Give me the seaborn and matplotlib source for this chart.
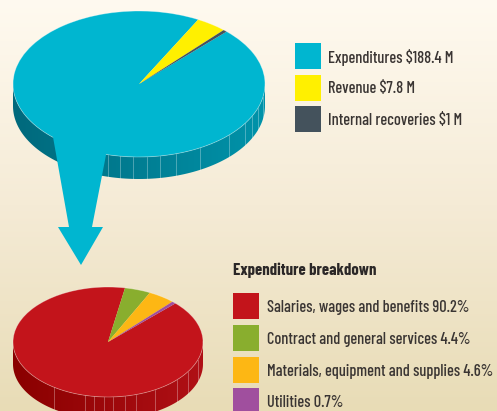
import numpy as np
import matplotlib
matplotlib.use("Agg")
import matplotlib.pyplot as plt
from matplotlib.colors import LinearSegmentedColormap
from matplotlib.patches import Polygon, Rectangle
import seaborn as sns

# data
budget_labels = ["Expenditures $188.4 M", "Revenue $7.8 M", "Internal recoveries $1 M"]
budget_values = [188.4, 7.8, 1]
budget_colors = ["#00b6d0", "#fff000", "#44525c"]

breakdown_title = "Expenditure breakdown"
breakdown_labels = ["Salaries, wages and benefits 90.2%", "Contract and general services 4.4%",
                    "Materials, equipment and supplies 4.6%", "Utilities 0.7%"]
breakdown_values = [90.2, 4.4, 4.6, 0.7]
breakdown_colors = ["#c3141b", "#89ae2e", "#fdb714", "#a04f9e"]

W, H = 497, 411
sns.set_theme(style="white")
plt.rcParams['font.family'] = ['Barlow Condensed', 'Liberation Sans', 'DejaVu Sans']

fig = plt.figure(figsize=(W / 100, H / 100), dpi=100)

# full figure axes in pixels, used for background, legends and arrow
bg = fig.add_axes([0, 0, 1, 1])
bg.set_xlim(0, W)
bg.set_ylim(H, 0)
bg.axis("off")
grad = LinearSegmentedColormap.from_list("bg", ["#fffaf0", "#f5ebd6", "#e8dcb6"])
bg.imshow(np.linspace(0, 1, 256).reshape(-1, 1), cmap=grad, extent=(0, W, H, 0), aspect="auto", zorder=0)


def draw_pie(cx, cy, rx, ry, depth, values, colors, start, dark_left, dark_right, seams):
    pad = 2
    ax = fig.add_axes([(cx - rx - pad) / W, (H - cy - ry - depth - pad) / H,
                       (2 * rx + 2 * pad) / W, (2 * ry + depth + 2 * pad) / H])
    ax.patch.set_alpha(0)
    wedges, _ = ax.pie(values, colors=sns.color_palette(colors), startangle=start, counterclock=False,
                       radius=1, wedgeprops=dict(linewidth=0))
    d = depth / ry
    for w in wedges:
        w.set_zorder(3)

    # side wall: horizontal gradient clipped to the front band of the ellipse
    wall = LinearSegmentedColormap.from_list("wall", [dark_left, dark_right])
    t = np.radians(np.linspace(180, 360, 121))
    band = np.r_[np.c_[np.cos(t), np.sin(t)], np.c_[np.cos(t[::-1]), np.sin(t[::-1]) - d]]
    poly = Polygon(band, closed=True, facecolor="none", edgecolor="none", transform=ax.transData)
    ax.add_patch(poly)
    img = ax.imshow(np.linspace(0, 1, 256).reshape(1, -1), cmap=wall, extent=(-1, 1, -1 - d, 1),
                    aspect="auto", zorder=1)
    img.set_clip_path(poly)
    ax.set_xlim(-1 - pad / rx, 1 + pad / rx)
    ax.set_ylim(-1 - d - pad / ry, 1 + pad / ry)
    ax.set_aspect("auto")

    # facet lines on the wall, seams are pixel x positions
    for px in seams:
        x = (px - cx) / rx
        y = -np.sqrt(1 - x * x)
        ax.plot([x, x], [y - d, y], color="white", alpha=0.3, lw=0.7, zorder=2)

    # pale rim
    t = np.linspace(0, 2 * np.pi, 300)
    ax.plot(np.cos(t), np.sin(t), color="white", alpha=0.35, lw=0.6, zorder=4)
    return ax


draw_pie(108, 342, 95, 55, 22, breakdown_values, breakdown_colors, 44.7, "#8a0000", "#b01016",
         [54, 85, 94, 104, 113, 125, 136, 155, 177, 188, 198])
draw_pie(139, 84, 126, 73, 22, budget_values, budget_colors, 45.9, "#00697c", "#0093aa",
         [108, 120, 133, 147, 160, 176, 200, 229, 245, 252, 258, 263])

# arrow between the pies
over = fig.add_axes([0, 0, 1, 1])
over.set_xlim(0, W)
over.set_ylim(H, 0)
over.axis("off")
over.add_patch(Polygon([(53, 137), (100, 120), (106, 155), (92, 227), (103, 227), (81, 265), (58, 227), (69, 227)],
                       closed=True, facecolor=budget_colors[0], edgecolor="none"))

# text size that gives the longest label its width in the reference, whichever font resolved
probe = fig.text(0, 0, breakdown_labels[2], fontsize=10, fontweight=500)
fs = 10 * 226 / probe.get_window_extent(renderer=fig.canvas.get_renderer()).width
probe.remove()


def draw_legend(x, y_tops, size, labels, colors, text_x):
    for top, label, color in zip(y_tops, labels, colors):
        over.add_patch(Rectangle((x, top), size, size, facecolor=color, edgecolor="none"))
        over.text(text_x, top + size / 2 + 1, label, color="#3a3533", fontsize=fs, fontweight=500,
                  va="center", ha="left")


draw_legend(295, [43, 75, 106], 26, budget_labels, budget_colors, 328)
draw_legend(233, [293, 325, 357, 388], 26, breakdown_labels, breakdown_colors, 267)
over.text(233, 270, breakdown_title, color="#2b2727", fontsize=fs * 1.02, fontweight="bold", va="center", ha="left")

fig.savefig("out.png", dpi=100)
